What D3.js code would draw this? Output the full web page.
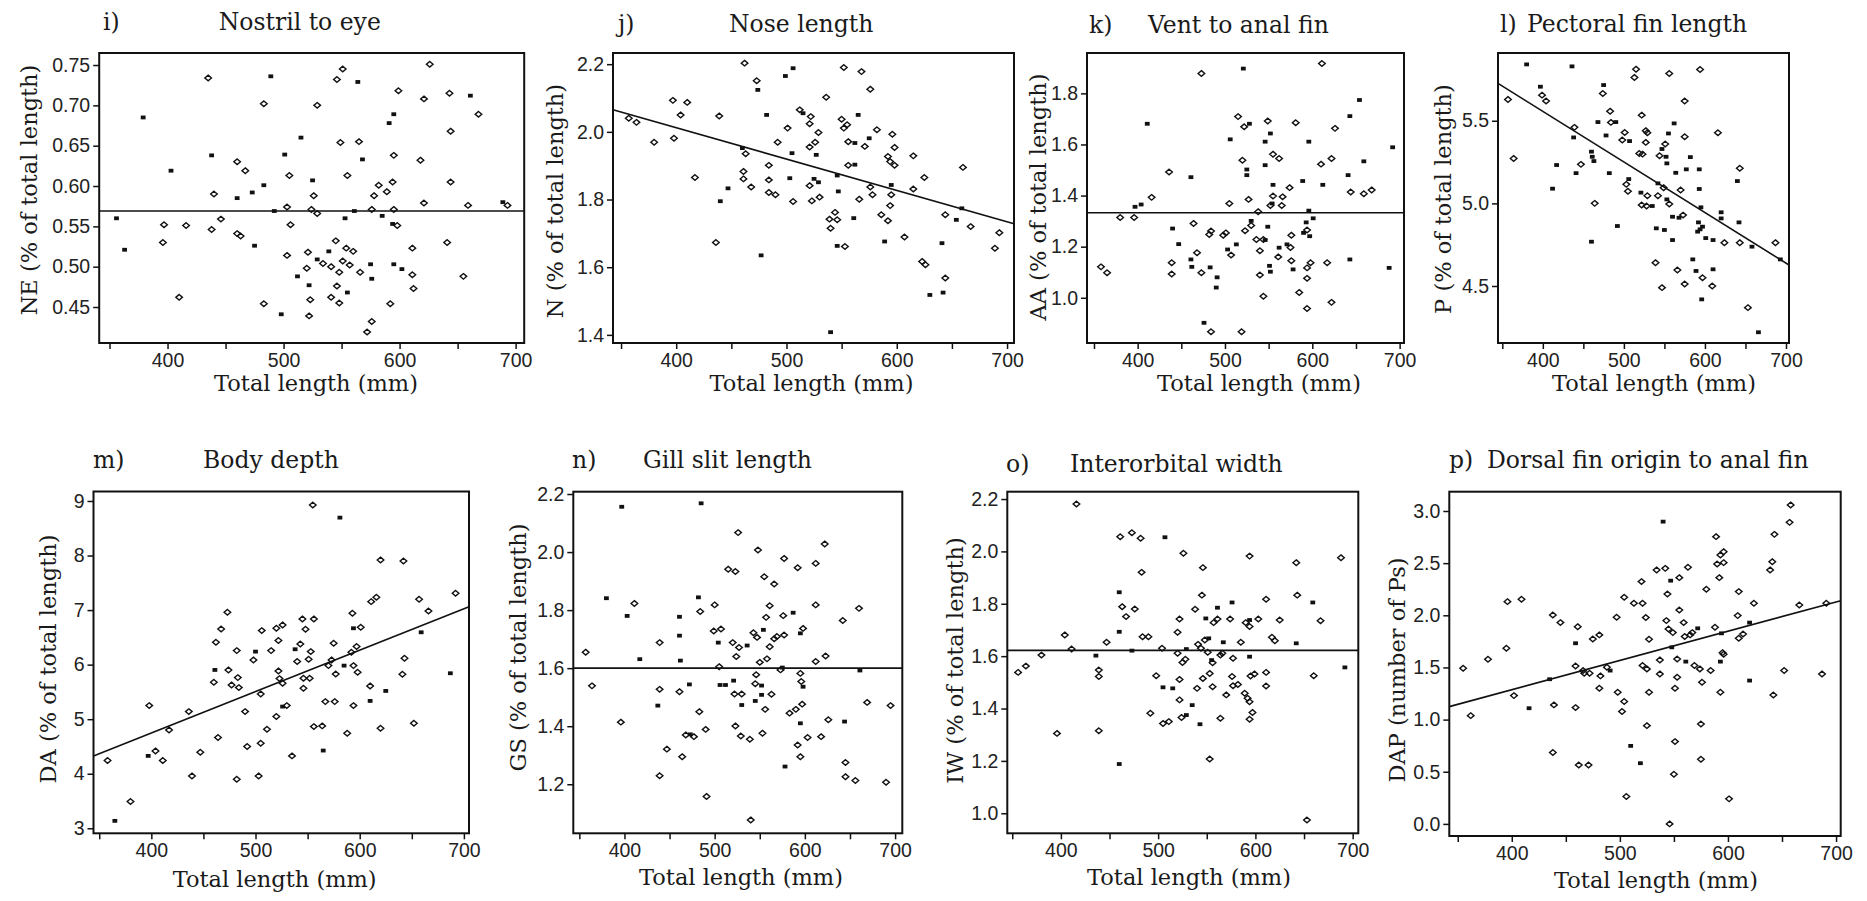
<!DOCTYPE html>
<html>
<head>
<meta charset="utf-8">
<script src="https://cdn.jsdelivr.net/npm/d3@7"></script>
<style>
  html, body { margin: 0; padding: 0; background: #fff; }
  svg { display: block; font-family: "DejaVu Serif", "Liberation Serif", serif; }
  .tick text { fill: #222; }
</style>
</head>
<body>
<svg id="chart" width="1867" height="901"></svg>
<script>
// ---------------------------------------------------------------------------
// Morphometric proportions plotted against total length (mm).
// Each point: [total length, measurement, filled marker (1) or open marker (0)]
// ---------------------------------------------------------------------------
const nostrilToEye = [
  [356,0.560,1],[363,0.521,1],[379,0.685,1],[397,0.552,0],[396,0.530,0],[403,0.619,1],[410,0.462,0],[416,0.551,0],
  [435,0.734,0],[438,0.638,1],[440,0.590,0],[438,0.546,0],[446,0.559,0],[460,0.630,0],[467,0.619,0],[460,0.585,1],
  [460,0.541,0],[463,0.538,0],[473,0.592,1],[475,0.526,1],[483,0.601,1],[483,0.702,0],[489,0.736,1],[483,0.454,0],
  [492,0.569,1],[498,0.441,1],[501,0.639,1],[503,0.574,0],[505,0.613,0],[506,0.552,0],[503,0.514,0],[515,0.660,1],
  [512,0.488,1],[521,0.518,0],[520,0.498,0],[522,0.477,1],[523,0.459,0],[522,0.439,0],[529,0.700,0],[525,0.607,1],
  [526,0.588,0],[524,0.571,0],[529,0.566,0],[529,0.509,1],[534,0.504,0],[539,0.519,1],[541,0.500,0],[546,0.732,0],
  [551,0.745,0],[549,0.654,0],[545,0.532,0],[548,0.493,0],[546,0.476,0],[541,0.462,0],[548,0.455,0],[553,0.560,1],
  [555,0.613,0],[554,0.523,0],[560,0.519,0],[551,0.507,0],[557,0.502,0],[555,0.468,1],[564,0.729,1],[565,0.655,0],
  [568,0.633,1],[561,0.569,1],[566,0.493,0],[572,0.419,0],[576,0.432,0],[575,0.503,1],[576,0.485,1],[576,0.571,0],
  [578,0.588,0],[582,0.601,0],[585,0.563,1],[589,0.593,0],[591,0.678,1],[594,0.605,0],[595,0.689,1],[595,0.638,0],
  [595,0.571,0],[594,0.553,1],[598,0.551,0],[595,0.503,1],[602,0.497,1],[592,0.454,0],[599,0.718,0],[611,0.523,0],
  [611,0.490,0],[612,0.473,0],[618,0.632,0],[621,0.708,0],[621,0.579,0],[626,0.751,0],[641,0.530,0],[643,0.715,0],
  [644,0.668,0],[644,0.605,0],[655,0.488,0],[659,0.576,0],[661,0.712,1],[668,0.689,0],[689,0.580,1],[693,0.576,0]
];

const noseLength = [
  [357,2.040,0],[364,2.028,0],[380,1.969,0],[397,2.093,0],[404,2.050,0],[410,2.087,0],[398,1.981,0],[417,1.865,0],
  [439,2.047,0],[440,1.795,1],[447,1.833,1],[436,1.673,0],[462,2.203,0],[473,2.151,0],[474,2.124,1],[460,1.952,1],
  [463,1.935,0],[461,1.883,0],[461,1.861,0],[468,1.837,0],[482,2.050,1],[484,1.901,0],[484,1.858,0],[484,1.821,0],
  [490,1.814,0],[477,1.635,1],[492,1.969,0],[499,2.165,1],[506,2.188,1],[501,2.011,0],[505,1.937,1],[503,1.863,1],
  [506,1.794,0],[512,2.065,0],[515,2.055,1],[521,2.024,0],[522,2.045,0],[526,1.969,0],[529,1.998,0],[521,1.955,0],
  [527,1.932,1],[525,1.861,1],[529,1.851,1],[521,1.841,0],[530,1.807,0],[523,1.796,0],[536,2.102,0],[546,1.871,1],
  [540,1.408,1],[552,2.190,0],[550,2.037,0],[555,2.021,0],[552,2.011,0],[556,1.971,0],[556,1.901,0],[562,1.903,1],
  [562,1.967,1],[565,2.050,1],[568,2.178,0],[576,2.126,0],[547,1.824,1],[544,1.762,0],[539,1.742,0],[546,1.740,0],
  [540,1.715,0],[546,1.663,1],[553,1.661,0],[561,1.745,1],[566,1.801,0],[571,1.957,0],[575,1.981,1],[582,2.006,0],
  [576,1.837,0],[578,1.814,0],[586,1.755,0],[592,1.737,0],[589,1.676,1],[596,1.993,0],[598,1.954,0],[592,1.927,0],
  [594,1.912,0],[598,1.901,0],[595,1.843,1],[595,1.814,0],[594,1.782,0],[607,1.689,0],[615,1.929,0],[615,1.831,0],
  [625,1.865,0],[623,1.617,0],[626,1.607,0],[630,1.518,1],[660,1.895,0],[659,1.774,1],[654,1.740,1],[644,1.755,0],
  [667,1.720,0],[641,1.671,1],[644,1.568,0],[642,1.525,1],[689,1.656,0],[693,1.702,0]
];

const ventToAnal = [
  [358,1.121,0],[365,1.098,0],[380,1.314,0],[396,1.314,0],[397,1.356,1],[404,1.365,1],[411,1.681,1],[416,1.393,0],
  [436,1.492,0],[440,1.271,1],[439,1.137,0],[439,1.093,0],[447,1.210,1],[461,1.472,1],[461,1.150,1],[462,1.121,1],
  [464,1.291,0],[468,1.176,0],[473,1.098,0],[473,1.878,0],[476,0.902,1],[482,1.248,0],[484,1.261,0],[483,1.119,1],
  [484,0.867,0],[491,1.080,1],[490,1.040,1],[498,1.245,0],[501,1.254,0],[503,1.189,1],[506,1.620,1],[505,1.369,0],
  [507,1.167,0],[513,1.209,1],[515,1.709,0],[521,1.897,1],[520,1.538,0],[522,1.669,0],[528,1.681,1],[525,1.502,1],
  [525,1.480,1],[527,1.385,0],[523,1.262,0],[530,1.301,1],[530,1.283,0],[519,0.867,0],[538,1.337,0],[536,1.228,0],
  [540,1.184,0],[540,1.089,0],[544,1.006,0],[546,1.611,1],[546,1.519,1],[549,1.692,0],[552,1.643,1],[549,1.278,1],
  [544,1.228,0],[546,1.226,1],[551,1.125,1],[552,1.102,1],[555,1.562,0],[555,1.442,1],[555,1.398,0],[554,1.369,1],
  [552,1.361,0],[562,1.545,0],[566,1.395,0],[565,1.361,0],[561,1.160,0],[562,1.196,1],[574,1.431,0],[571,1.209,1],
  [575,1.197,0],[576,1.245,0],[576,1.145,0],[578,1.111,1],[581,1.685,0],[585,1.021,0],[589,1.457,1],[590,1.254,1],
  [593,1.295,1],[594,1.265,0],[596,1.611,1],[596,1.341,1],[597,1.241,1],[594,1.117,0],[594,1.076,0],[598,1.137,0],
  [594,0.958,0],[601,1.311,1],[611,1.917,0],[610,1.523,0],[612,1.442,1],[617,1.137,0],[622,1.545,0],[622,0.982,0],
  [626,1.663,0],[641,1.480,1],[643,1.711,1],[643,1.150,1],[644,1.414,0],[654,1.774,1],[659,1.534,1],[659,1.407,0],
  [668,1.422,0],[688,1.117,1],[692,1.589,1]
];

const pectoralFin = [
  [357,5.629,0],[364,5.272,0],[380,5.841,1],[397,5.706,1],[399,5.655,0],[404,5.619,0],[412,5.089,1],[417,5.232,1],
  [436,5.829,1],[439,5.460,0],[438,5.399,1],[441,5.183,1],[447,5.236,0],[460,5.313,1],[461,5.282,1],[463,5.256,1],
  [460,4.768,1],[464,5.000,0],[468,5.492,1],[475,5.716,1],[474,5.665,0],[478,5.411,1],[482,5.183,1],[483,5.558,0],
  [484,5.490,0],[490,5.492,1],[492,4.863,1],[498,5.383,0],[501,5.429,0],[507,5.377,1],[506,5.147,1],[503,5.115,0],
  [505,5.073,0],[515,5.812,0],[513,5.762,0],[522,5.534,0],[519,5.302,0],[523,5.298,0],[521,5.065,1],[522,4.990,0],
  [527,5.440,0],[529,5.427,0],[527,5.369,0],[529,5.046,0],[528,4.984,0],[535,4.984,1],[540,4.849,1],[539,4.641,0],
  [542,5.121,1],[544,5.288,0],[542,5.046,0],[547,4.490,0],[547,5.329,1],[551,5.359,0],[549,5.095,0],[550,4.839,1],
  [552,5.282,1],[553,5.242,1],[556,5.786,0],[555,5.423,1],[553,5.024,1],[556,4.996,0],[560,4.919,1],[560,4.778,1],
  [562,5.484,1],[564,5.185,1],[566,4.597,0],[568,4.913,1],[570,5.081,0],[573,4.929,0],[575,5.619,0],[575,5.403,0],
  [577,5.206,1],[575,4.512,0],[582,5.280,1],[585,4.661,1],[589,4.591,1],[592,4.885,1],[591,4.829,1],[593,5.206,1],
  [593,5.087,1],[594,5.810,0],[594,4.843,1],[595,4.976,1],[596,4.419,1],[597,4.550,0],[597,4.859,1],[601,4.790,1],
  [610,4.778,1],[610,4.601,1],[609,4.500,0],[616,5.427,0],[620,4.946,1],[620,4.909,1],[624,4.762,0],[640,5.135,1],
  [643,5.212,0],[642,4.885,1],[643,4.762,0],[653,4.369,0],[658,4.738,1],[666,4.220,1],[687,4.762,0],[693,4.661,1]
];

const bodyDepth = [
  [358,4.241,0],[365,3.136,1],[380,3.490,0],[398,5.249,0],[397,4.327,1],[404,4.418,0],[411,4.241,0],[417,4.803,0],
  [436,5.139,0],[439,3.960,0],[447,4.394,0],[460,5.677,0],[461,5.903,1],[462,6.410,0],[464,4.663,0],[467,6.654,0],
  [473,6.960,0],[474,5.903,0],[477,5.628,0],[483,5.762,0],[484,5.579,0],[482,6.257,0],[482,3.899,0],[490,5.139,0],
  [492,4.498,0],[498,6.086,0],[500,6.239,1],[503,3.960,0],[506,6.624,0],[505,5.463,0],[505,4.559,0],[511,4.815,0],
  [515,6.257,0],[520,5.048,0],[520,6.667,0],[522,6.441,0],[522,5.885,0],[523,5.744,0],[526,6.728,0],[526,5.659,0],
  [526,5.231,1],[530,5.249,0],[535,4.327,0],[538,6.282,1],[540,6.056,0],[543,6.379,0],[545,6.838,0],[546,5.750,0],
  [546,5.567,0],[548,6.648,0],[551,6.098,0],[553,6.239,0],[552,5.750,0],[555,8.927,0],[556,6.838,0],[556,4.864,0],
  [564,4.877,0],[565,4.425,1],[567,5.322,0],[570,5.982,0],[573,6.086,0],[575,6.392,0],[576,5.322,0],[577,5.829,0],
  [581,8.695,1],[585,5.982,1],[588,4.742,0],[592,6.227,0],[593,6.941,0],[594,6.667,1],[594,5.982,0],[594,5.249,0],
  [597,6.331,0],[598,5.860,0],[601,6.685,0],[610,5.610,0],[610,5.335,1],[611,7.155,0],[616,7.235,0],[620,7.919,0],
  [620,4.834,0],[625,5.518,1],[641,5.823,0],[642,7.900,0],[643,6.117,0],[652,4.926,0],[657,7.198,0],[659,6.593,1],
  [666,6.984,0],[687,5.842,1],[692,7.308,0]
];

const gillSlit = [
  [357,1.655,0],[364,1.539,0],[380,1.841,1],[397,2.156,1],[396,1.414,0],[403,1.780,1],[411,1.823,0],[417,1.631,1],
  [437,1.471,1],[439,1.688,0],[439,1.527,0],[439,1.229,0],[447,1.321,0],[461,1.777,1],[461,1.712,1],[462,1.626,1],
  [461,1.519,0],[464,1.295,0],[472,1.544,1],[468,1.370,0],[473,1.372,1],[477,1.364,0],[482,1.844,1],[484,1.795,0],
  [483,1.450,0],[485,2.168,1],[490,1.389,0],[491,1.158,0],[499,1.728,0],[500,1.818,0],[504,1.688,1],[507,1.735,0],
  [505,1.605,0],[506,1.542,1],[512,1.542,1],[515,1.941,0],[523,1.933,0],[520,1.688,0],[521,1.557,1],[522,1.511,0],
  [523,1.401,0],[524,1.640,0],[526,2.067,0],[527,1.671,0],[530,1.511,0],[530,1.473,1],[529,1.366,0],[536,1.678,1],
  [539,1.355,0],[540,1.077,0],[543,1.722,0],[545,1.546,0],[545,1.487,1],[547,1.706,0],[546,1.577,0],[548,2.007,0],
  [550,1.620,0],[552,1.540,1],[552,1.508,1],[553,1.376,0],[554,1.732,1],[555,1.915,0],[556,1.458,0],[557,1.775,0],
  [558,1.632,0],[561,1.674,0],[561,1.815,0],[563,1.510,0],[566,1.890,0],[566,1.701,0],[569,1.709,0],[573,1.594,0],
  [575,1.602,1],[577,1.978,0],[576,1.781,0],[577,1.714,0],[578,1.261,1],[583,1.445,0],[587,1.791,1],[590,1.458,0],
  [592,1.946,0],[592,1.335,0],[595,1.720,1],[595,1.582,0],[596,1.554,0],[597,1.476,0],[595,1.410,1],[595,1.295,0],
  [598,1.737,0],[598,1.536,1],[603,1.361,0],[612,1.961,0],[612,1.818,0],[612,1.623,0],[618,1.364,0],[622,2.028,0],
  [623,1.642,0],[626,1.422,0],[642,1.764,0],[644,1.416,1],[645,1.275,0],[645,1.226,0],[656,1.213,0],[660,1.806,0],
  [661,1.592,1],[669,1.482,0],[690,1.207,0],[695,1.471,0]
];

const interorbital = [
  [356,1.538,0],[364,1.562,0],[380,1.604,0],[396,1.305,0],[404,1.681,0],[411,1.627,0],[416,2.181,0],[436,1.602,1],
  [439,1.547,0],[439,1.522,0],[439,1.315,0],[447,1.653,0],[461,2.056,0],[460,1.844,1],[460,1.693,1],[460,1.188,1],
  [463,1.789,0],[467,1.751,0],[473,2.071,0],[473,1.621,1],[476,1.780,0],[482,2.050,0],[483,1.920,0],[484,1.674,0],
  [490,1.674,0],[492,1.382,0],[498,1.525,0],[504,1.630,0],[505,1.343,0],[507,2.054,1],[505,1.481,1],[511,1.350,0],
  [515,1.477,1],[520,1.691,0],[520,1.611,0],[522,1.742,0],[522,1.511,0],[522,1.433,0],[524,1.366,0],[526,1.993,0],
  [525,1.576,0],[528,1.588,0],[529,1.627,1],[529,1.375,1],[535,1.413,1],[538,1.779,0],[540,1.477,0],[541,1.645,0],
  [544,1.630,0],[543,1.340,1],[546,1.938,0],[545,1.833,0],[546,1.515,0],[548,1.662,0],[549,1.744,1],[552,1.668,1],
  [551,1.615,0],[553,1.534,0],[553,1.207,0],[555,1.585,1],[556,1.575,0],[556,1.483,0],[557,1.728,0],[561,1.785,1],
  [561,1.742,0],[564,1.604,0],[567,1.653,1],[566,1.611,0],[564,1.363,0],[570,1.452,0],[574,1.742,0],[576,1.805,1],
  [577,1.592,0],[576,1.522,0],[577,1.487,0],[582,1.492,0],[585,1.653,0],[589,1.458,0],[590,1.728,0],[592,1.439,0],
  [594,1.738,1],[594,1.598,1],[594,1.982,0],[594,1.713,0],[594,1.426,0],[594,1.359,0],[595,1.524,0],[597,1.385,0],
  [599,1.532,0],[603,1.742,0],[611,1.817,0],[611,1.538,0],[611,1.486,0],[617,1.672,0],[620,1.659,0],[625,1.738,0],
  [642,1.957,0],[643,1.833,0],[642,1.649,1],[659,1.805,1],[660,1.525,0],[667,1.735,0],[653,0.974,0],[688,1.976,0],
  [692,1.557,1]
];

const dorsalToAnal = [
  [355,1.492,0],[362,1.038,0],[378,1.578,0],[395,1.684,0],[396,2.131,0],[402,1.230,0],[409,2.153,0],[416,1.109,1],
  [435,1.387,1],[438,2.003,0],[439,1.141,0],[438,0.684,0],[445,1.930,0],[459,1.732,1],[459,1.514,0],[459,1.115,0],
  [461,1.891,0],[462,0.565,0],[466,1.470,0],[467,1.444,0],[472,1.444,0],[471,0.565,0],[475,1.773,0],[481,1.812,0],
  [482,1.419,0],[481,1.300,0],[488,1.502,0],[491,1.470,1],[497,1.981,0],[498,1.262,0],[502,1.077,0],[504,1.173,0],
  [504,2.173,0],[506,0.262,0],[513,2.115,0],[510,0.748,1],[519,0.582,1],[520,2.323,0],[521,2.115,0],[521,1.518,0],
  [524,1.978,0],[525,1.486,0],[525,0.942,0],[527,1.770,0],[527,1.262,0],[534,2.435,0],[537,1.572,0],[537,1.438,0],
  [540,2.898,1],[542,2.450,0],[543,1.949,0],[544,2.204,0],[545,1.869,0],[546,0.000,0],[547,2.332,1],[549,1.834,0],
  [548,1.693,1],[550,0.476,0],[551,0.789,0],[551,1.300,0],[553,1.581,0],[553,1.406,0],[555,2.361,0],[555,2.051,0],
  [559,1.930,0],[560,1.796,0],[561,1.556,1],[563,2.460,0],[565,1.812,0],[567,1.834,0],[569,1.518,0],[572,1.875,1],
  [574,1.486,0],[575,0.958,0],[575,0.620,0],[576,1.358,0],[580,2.249,0],[584,1.470,0],[588,1.885,0],[589,2.754,0],
  [590,2.492,0],[592,2.361,0],[593,1.556,1],[593,1.262,0],[593,2.578,0],[594,1.827,1],[595,1.642,0],[596,2.610,0],
  [596,2.505,0],[596,1.626,0],[601,0.240,0],[610,2.227,0],[609,1.997,0],[610,1.780,0],[614,1.821,0],[620,1.930,1],
  [620,1.374,1],[624,2.115,0],[639,2.435,0],[641,2.514,0],[642,1.236,0],[643,2.776,0],[652,1.470,0],[657,2.891,0],
  [658,3.058,0],[666,2.099,0],[687,1.438,0],[691,2.115,0]
];

// Panel texts
const panelLetters = ["i)", "j)", "k)", "l)", "m)", "n)", "o)", "p)"];
const panelTitles = ["Nostril to eye", "Nose length", "Vent to anal fin", "Pectoral fin length",
                     "Body depth", "Gill slit length", "Interorbital width", "Dorsal fin origin to anal fin"];
const yAxisTitles = ["NE (% of total length)", "N (% of total length)", "AA (% of total length)",
                     "P (% of total length)", "DA (% of total length)", "GS (% of total length)",
                     "IW (% of total length)", "DAP (number of Ps)"];
const xAxisTitle = "Total length (mm)";

// Axis ticks
const xTickValues = [350, 400, 450, 500, 550, 600, 650, 700];
const xTickLabels = [400, 500, 600, 700];
const yTickValues = [
  [0.45, 0.50, 0.55, 0.60, 0.65, 0.70, 0.75],
  [1.4, 1.6, 1.8, 2.0, 2.2],
  [1.0, 1.2, 1.4, 1.6, 1.8],
  [4.5, 5.0, 5.5],
  [3, 4, 5, 6, 7, 8, 9],
  [1.2, 1.4, 1.6, 1.8, 2.0, 2.2],
  [1.0, 1.2, 1.4, 1.6, 1.8, 2.0, 2.2],
  [0.0, 0.5, 1.0, 1.5, 2.0, 2.5, 3.0]
];
const yTickFormats = [".2f", ".1f", ".1f", ".1f", "d", ".1f", ".1f", ".1f"];

// Fitted lines: measurement = intercept + slope * total length
const fitIntercepts = [0.569, 2.383, 1.333, 6.781, 1.708, 1.600, 1.622, 0.164];
const fitSlopes     = [0, -0.000927, 0, -0.003061, 0.007596, 0, 0, 0.002806];

// Axis ranges of each plot frame
const xDomains = [[341.1,707.4],[342.7,706.3],[342,705],[344.7,703.7],[344.5,704.9],[343.3,708],[344.9,705.8],[342.2,704.3]];
const yDomains = [[0.4054,0.7649],[1.376,2.233],[0.823,1.958],[4.155,5.91],[2.908,9.174],[1.031,2.208],[0.9235,2.228],[-0.116,3.185]];

const pointSets = [nostrilToEye, noseLength, ventToAnal, pectoralFin, bodyDepth, gillSlit, interorbital, dorsalToAnal];

// Page layout: plot frames and text anchors (pixels)
const frames = [
  {x0: 99.2,  x1: 524.2,  y0: 53,    y1: 343},
  {x0: 613,   x1: 1014,   y0: 53,    y1: 343},
  {x0: 1087,  x1: 1404,   y0: 53,    y1: 343},
  {x0: 1498,  x1: 1789,   y0: 53,    y1: 343},
  {x0: 93.5,  x1: 469,    y0: 491.5, y1: 833.3},
  {x0: 573.3, x1: 902.3,  y0: 491.7, y1: 833.3},
  {x0: 1007.3,x1: 1358.3, y0: 491.7, y1: 833.3},
  {x0: 1449.3,x1: 1840.7, y0: 491.7, y1: 836}
];
const textAnchors = [
  {letterX: 103,  titleX: 218.7, titleY: 29.5,  yT: [29.3, 190],   xT: [316, 390.5]},
  {letterX: 618,  titleX: 729,   titleY: 31.7,  yT: [555, 201],    xT: [811.5, 390.5]},
  {letterX: 1089, titleX: 1148,  titleY: 33,    yT: [1038, 197],   xT: [1259, 391]},
  {letterX: 1500, titleX: 1527,  titleY: 31.7,  yT: [1443, 199],   xT: [1654, 390.7]},
  {letterX: 93,   titleX: 203,   titleY: 468.3, yT: [48, 659],     xT: [274.7, 886.7]},
  {letterX: 572,  titleX: 643,   titleY: 468,   yT: [518, 647.5],  xT: [741, 885]},
  {letterX: 1006, titleX: 1070,  titleY: 472,   yT: [955, 660.5],  xT: [1189, 885]},
  {letterX: 1449, titleX: 1487,  titleY: 468,   yT: [1397, 670],   xT: [1656, 888]}
];

const INK = "#111";
const svg = d3.select("#chart");

// Open marker: small diamond; filled marker: small bar
const diamond = "M0,-2.8L3.3,0L0,2.8L-3.3,0Z";

pointSets.forEach((pts, i) => {
  const f = frames[i], t = textAnchors[i];
  const x = d3.scaleLinear().domain(xDomains[i]).range([f.x0, f.x1]);
  const y = d3.scaleLinear().domain(yDomains[i]).range([f.y1, f.y0]);
  const g = svg.append("g").attr("class", "panel");

  // x axis ticks (below the frame)
  const xAxis = d3.axisBottom(x)
    .tickValues(xTickValues)
    .tickSize(6)
    .tickPadding(4)
    .tickFormat(d => xTickLabels.includes(d) ? d : "");
  const gx = g.append("g").attr("transform", `translate(0,${f.y1})`).call(xAxis);
  gx.select(".domain").remove();
  gx.selectAll("line").attr("stroke", INK).attr("stroke-width", 1.5);
  gx.selectAll("text").attr("font-size", 19.5);

  // y axis ticks (left of the frame)
  const yAxis = d3.axisLeft(y)
    .tickValues(yTickValues[i])
    .tickSize(6)
    .tickPadding(3)
    .tickFormat(d3.format(yTickFormats[i]));
  const gy = g.append("g").attr("transform", `translate(${f.x0},0)`).call(yAxis);
  gy.select(".domain").remove();
  gy.selectAll("line").attr("stroke", INK).attr("stroke-width", 1.5);
  gy.selectAll("text").attr("font-size", 19.5);

  // fitted line across the frame
  const xd = x.domain();
  const fit = xd.map(v => [v, fitIntercepts[i] + fitSlopes[i] * v]);
  g.append("path")
    .attr("d", d3.line().x(d => x(d[0])).y(d => y(d[1]))(fit))
    .attr("fill", "none")
    .attr("stroke", INK)
    .attr("stroke-width", 1.6);

  // points
  const open = pts.filter(d => !d[2]);
  const filled = pts.filter(d => d[2]);
  g.append("g").selectAll("path")
    .data(open).join("path")
    .attr("d", diamond)
    .attr("transform", d => `translate(${x(d[0])},${y(d[1])})`)
    .attr("fill", "none")
    .attr("stroke", INK)
    .attr("stroke-width", 1.4);
  g.append("g").selectAll("rect")
    .data(filled).join("rect")
    .attr("x", d => x(d[0]) - 2.4)
    .attr("y", d => y(d[1]) - 1.9)
    .attr("width", 4.8)
    .attr("height", 3.8)
    .attr("fill", INK);

  // frame
  g.append("rect")
    .attr("x", f.x0).attr("y", f.y0)
    .attr("width", f.x1 - f.x0).attr("height", f.y1 - f.y0)
    .attr("fill", "none").attr("stroke", INK).attr("stroke-width", 2);

  // panel letter and title
  g.append("text").attr("x", t.letterX).attr("y", t.titleY)
    .attr("font-size", 23.5).attr("fill", "#1a1a1a").text(panelLetters[i]);
  g.append("text").attr("x", t.titleX).attr("y", t.titleY)
    .attr("font-size", 23.5).attr("fill", "#1a1a1a").text(panelTitles[i]);

  // axis titles
  g.append("text")
    .attr("transform", `translate(${t.yT[0]},${t.yT[1]}) rotate(-90)`)
    .attr("text-anchor", "middle").attr("dy", "0.35em")
    .attr("font-size", 22.5).attr("fill", "#1a1a1a")
    .text(yAxisTitles[i]);
  g.append("text")
    .attr("x", t.xT[0]).attr("y", t.xT[1])
    .attr("text-anchor", "middle")
    .attr("font-size", 22.5).attr("fill", "#1a1a1a")
    .text(xAxisTitle);
});
</script>
</body>
</html>
